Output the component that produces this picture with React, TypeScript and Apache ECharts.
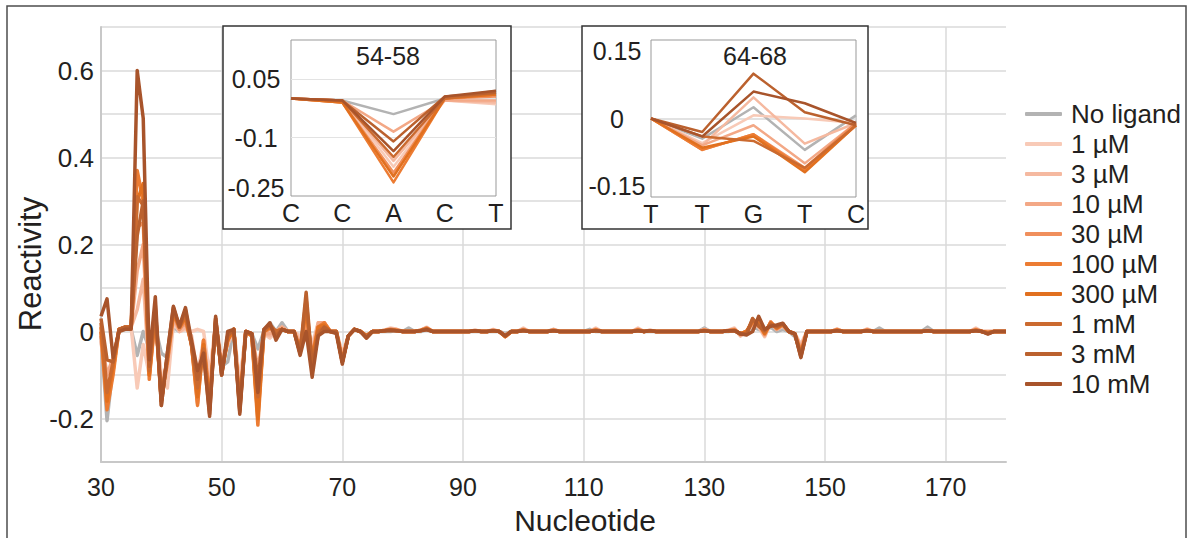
import React, { useEffect, useRef } from 'react';
import * as echarts from 'echarts';

const FONT = '"Liberation Sans", Arial, Helvetica, sans-serif';
const TEXT = '#231f20';

const seriesNames = ['No ligand', '1 µM', '3 µM', '10 µM', '30 µM', '100 µM', '300 µM', '1 mM', '3 mM', '10 mM'];
const seriesColors = ['#b3b3b3', '#f8cab7', '#f5b9a0', '#f3a886', '#f08f5c', '#ec7c33', '#e1701f', '#cb6a2f', '#bb612e', '#a8542b'];

const firstNucleotide = 30;
const xTickLabels = [30, 50, 70, 90, 110, 130, 150, 170];
const yTickLabels = [-0.2, 0, 0.2, 0.4, 0.6];

// Reactivity per nucleotide, 30..180
const noLigand = [
  -0.01, -0.205, -0.08, 0.005, 0.01, 0.005, -0.055, 0.0, -0.04, 0.01,
  -0.05, -0.06, 0.01, 0.0, 0.02, -0.02, -0.12, -0.03, -0.12, 0.01,
  -0.08, -0.07, 0.005, -0.13, 0.0, -0.005, -0.04, 0.0, 0.02, 0.0,
  0.02, 0.0, 0.0, -0.02, -0.01, -0.04, 0.0, 0.005, 0.0, 0.0,
  -0.06, -0.01, 0.005, 0.0, -0.01, 0.0,
  0, 0, 0, 0.003, 0, 0.008, 0, 0, 0.005, 0,
  0, 0, 0, 0, 0, 0, 0, 0, 0, 0,
  0, -0.005, 0, 0, 0.003, 0, 0, 0, 0, 0.005,
  0, 0, 0, 0, 0, 0.005, 0, 0, 0, 0,
  0, 0, 0, 0.003, 0, 0, 0, 0, 0, 0,
  0, 0, 0, 0, 0.008, 0, 0, 0, 0, 0.003,
  -0.005, 0, 0.01, 0.005, 0, 0.01, 0, 0.005, 0, -0.012,
  -0.04, 0, 0, 0, 0, 0, 0.003, 0, 0, 0,
  0, 0.003, 0, 0.008, 0, 0, 0, 0, 0, 0,
  0, 0.01, 0, 0, 0, 0, 0, 0, 0, 0.003,
  0, -0.003, 0, 0, 0,
];
const uM1 = [
  -0.02, -0.12, -0.09, 0.005, 0.01, 0.01, -0.13, -0.03, -0.1, 0.02,
  -0.1, -0.13, 0.02, 0.0, 0.005, 0.0, 0.005, 0.0, -0.1, 0.02,
  -0.06, -0.03, 0.005, -0.12, 0.0, -0.005, -0.175, -0.005, -0.015, 0.0,
  0.01, 0.0, 0.0, -0.01, -0.02, -0.03, 0.02, 0.02, 0.0, 0.0,
  -0.05, -0.01, 0.005, 0.0, -0.01, 0.0,
  0, 0.003, 0.008, 0.005, 0, 0, 0, 0.003, 0.01, 0,
  0, 0, 0, 0, 0, 0, 0.003, 0, 0, 0.005,
  0, -0.008, 0, 0, 0.008, 0, 0, 0, 0, 0.005,
  0, 0, 0, 0, 0, 0, 0.008, 0, 0, 0,
  0, 0, 0, 0.008, 0, 0.003, 0, 0, 0, 0,
  0, 0, 0, 0, 0.005, 0, 0, 0, 0.003, 0.008,
  -0.01, 0, 0.015, 0.01, -0.012, 0.02, 0.005, 0.012, 0, -0.005,
  -0.03, 0, 0, 0, 0, 0, 0.006, 0, 0, 0,
  0, 0.006, 0, 0, 0, 0, 0, 0, 0, 0,
  0, 0.003, 0, 0, 0, 0, 0, 0, 0, 0.008,
  0, 0, 0, 0, 0,
];
const uM3 = [
  -0.02, -0.15, -0.07, 0.005, 0.01, 0.01, 0.05, 0.12, -0.1, 0.03,
  -0.12, -0.08, 0.03, 0.0, 0.01, -0.01, -0.1, -0.02, -0.14, 0.02,
  -0.07, -0.03, 0.005, -0.15, 0.0, -0.005, -0.16, -0.005, -0.01, 0.0,
  0.01, 0.0, 0.0, -0.02, 0.01, -0.04, 0.015, 0.02, 0.0, 0.0,
  -0.055, -0.01, 0.005, 0.0, -0.01, 0.0,
  0, 0.003, 0.006, 0.005, 0, 0, 0, 0.003, 0.008, 0,
  0, 0, 0, 0, 0, 0, 0.003, 0, 0, 0.003,
  0, -0.01, 0, 0, 0.006, 0, 0, 0, 0, 0.004,
  0, 0, 0, 0, 0, 0, 0.006, 0, 0, 0,
  0, 0, 0, 0.006, 0, 0.003, 0, 0, 0, 0,
  0, 0, 0, 0, 0.004, 0, 0, 0, 0.003, 0.006,
  -0.01, 0, 0.018, 0.012, -0.01, 0.02, 0.005, 0.015, 0, -0.005,
  -0.035, 0, 0, 0, 0, 0, 0.005, 0, 0, 0,
  0, 0.005, 0, 0, 0, 0, 0, 0, 0, 0,
  0, 0.003, 0, 0, 0, 0, 0, 0, 0, 0.006,
  0, 0, 0, 0, 0,
];
const uM10 = [
  -0.01, -0.1, -0.06, 0.005, 0.01, 0.01, 0.14, 0.2, -0.09, 0.03,
  -0.13, -0.07, 0.03, 0.005, 0.02, -0.02, -0.12, -0.03, -0.15, 0.02,
  -0.08, -0.02, 0.005, -0.16, 0.0, -0.005, -0.085, -0.005, -0.005, 0.0,
  0.01, 0.0, 0.0, -0.03, 0.02, -0.05, 0.02, 0.02, 0.0, 0.0,
  -0.06, -0.01, 0.005, 0.0, -0.01, 0.0,
  0, 0.003, 0.005, 0.004, 0, 0, 0, 0.003, 0.008, 0,
  0, 0, 0, 0, 0, 0, 0.002, 0, 0, 0.003,
  0, -0.01, 0, 0, 0.005, 0, 0, 0, 0, 0.004,
  0, 0, 0, 0, 0, 0, 0.005, 0, 0, 0,
  0, 0, 0, 0.005, 0, 0.002, 0, 0, 0, 0,
  0, 0, 0, 0, 0.004, 0, 0, 0, 0.002, 0.005,
  -0.008, 0, 0.02, 0.015, -0.008, 0.022, 0.005, 0.015, 0, -0.005,
  -0.04, 0, 0, 0, 0, 0, 0.005, 0, 0, 0,
  0, 0.004, 0, 0, 0, 0, 0, 0, 0, 0,
  0, 0.002, 0, 0, 0, 0, 0, 0, 0, 0.005,
  0, 0, 0, 0, 0,
];
const uM30 = [
  0.0, -0.17, -0.09, 0.005, 0.01, 0.01, 0.24, 0.25, -0.1, 0.04,
  -0.15, -0.06, 0.04, 0.005, 0.025, -0.03, -0.165, -0.02, -0.16, 0.02,
  -0.09, -0.02, 0.005, -0.17, 0.0, -0.01, -0.19, 0.0, 0.005, 0.0,
  0.005, 0.0, 0.0, -0.04, 0.03, -0.06, 0.01, 0.02, 0.0, 0.0,
  -0.065, -0.01, 0.005, 0.0, -0.01, 0.0,
  0, 0.002, 0.005, 0.003, 0, 0, 0, 0.003, 0.008, 0,
  0, 0, 0, 0, 0, 0, 0.002, 0, 0, 0.003,
  0, -0.012, 0, 0, 0.004, 0, 0, 0, 0, 0.003,
  0, 0, 0, 0, 0, 0, 0.004, 0, 0, 0,
  0, 0, 0, 0.004, 0, 0.002, 0, 0, 0, 0,
  0, 0, 0, 0, 0.003, 0, 0, 0, 0.002, 0.004,
  -0.006, 0, 0.02, 0.018, -0.006, 0.022, 0.006, 0.015, 0, -0.005,
  -0.045, 0, 0, 0, 0, 0, 0.004, 0, 0, 0,
  0, 0.003, 0, 0, 0, 0, 0, 0, 0, 0,
  0, 0.002, 0, 0, 0, 0, 0, 0, 0, 0.004,
  0, -0.002, 0, 0, 0,
];
const uM100 = [
  0.0, -0.18, -0.1, 0.005, 0.01, 0.01, 0.37, 0.3, -0.11, 0.04,
  -0.16, -0.07, 0.04, 0.01, 0.03, -0.03, -0.17, -0.02, -0.17, 0.02,
  -0.09, -0.02, 0.005, -0.17, 0.0, -0.01, -0.215, 0.0, 0.01, 0.0,
  0.005, 0.0, 0.0, -0.04, 0.05, -0.06, 0.01, 0.02, 0.0, 0.0,
  -0.07, -0.01, 0.005, 0.0, -0.01, 0.0,
  0, 0.002, 0.004, 0.003, 0, 0, 0, 0.002, 0.007, 0,
  0, 0, 0, 0, 0, 0, 0.002, 0, 0, 0.002,
  0, -0.012, 0, 0, 0.003, 0, 0, 0, 0, 0.003,
  0, 0, 0, 0, 0, 0, 0.003, 0, 0, 0,
  0, 0, 0, 0.003, 0, 0.002, 0, 0, 0, 0,
  0, 0, 0, 0, 0.003, 0, 0, 0, 0.002, 0.003,
  -0.005, 0, 0.022, 0.02, -0.005, 0.02, 0.008, 0.016, 0, -0.005,
  -0.05, 0, 0, 0, 0, 0, 0.003, 0, 0, 0,
  0, 0.003, 0, 0, 0, 0, 0, 0, 0, 0,
  0, 0.002, 0, 0, 0, 0, 0, 0, 0, 0.003,
  0, -0.003, 0, 0, 0,
];
const uM300 = [
  0.01, -0.16, -0.08, 0.005, 0.01, 0.01, 0.3, 0.34, -0.1, 0.05,
  -0.16, -0.06, 0.045, 0.01, 0.035, -0.03, -0.15, -0.03, -0.17, 0.025,
  -0.095, -0.02, 0.005, -0.175, 0.0, -0.01, -0.2, 0.0, 0.01, 0.0,
  0.005, 0.0, 0.0, -0.045, 0.06, -0.07, 0.01, 0.015, 0.0, 0.0,
  -0.07, -0.01, 0.005, 0.0, -0.01, 0.0,
  0, 0.002, 0.004, 0.002, 0, 0, 0, 0.002, 0.006, 0,
  0, 0, 0, 0, 0, 0, 0.002, 0, 0, 0.002,
  0, -0.012, 0, 0, 0.003, 0, 0, 0, 0, 0.002,
  0, 0, 0, 0, 0, 0, 0.003, 0, 0, 0,
  0, 0, 0, 0.003, 0, 0.002, 0, 0, 0, 0,
  0, 0, 0, 0, 0.002, 0, 0, 0, 0.002, 0.003,
  -0.005, 0, 0.025, 0.018, -0.004, 0.02, 0.008, 0.017, 0, -0.006,
  -0.052, 0, 0, 0, 0, 0, 0.003, 0, 0, 0,
  0, 0.002, 0, 0, 0, 0, 0, 0, 0, 0,
  0, 0.002, 0, 0, 0, 0, 0, 0, 0, 0.003,
  0, -0.003, 0, 0, 0,
];
const mM1 = [
  0.02, -0.14, -0.07, 0.005, 0.01, 0.01, 0.31, 0.29, -0.09, 0.05,
  -0.16, -0.06, 0.05, 0.01, 0.04, -0.03, -0.13, -0.04, -0.18, 0.03,
  -0.1, -0.01, 0.005, -0.18, 0.0, -0.005, -0.15, 0.0, 0.015, 0.0,
  0.005, 0.0, 0.0, -0.05, 0.075, -0.08, 0.0, 0.01, 0.0, 0.0,
  -0.07, -0.01, 0.005, 0.0, -0.01, 0.0,
  0, 0.002, 0.003, 0.002, 0, 0, 0, 0.002, 0.006, 0,
  0, 0, 0, 0, 0, 0, 0.002, 0, 0, 0.002,
  0, -0.01, 0, 0, 0.003, 0, 0, 0, 0, 0.002,
  0, 0, 0, 0, 0, 0, 0.002, 0, 0, 0,
  0, 0, 0, 0.002, 0, 0.002, 0, 0, 0, 0,
  0, 0, 0, 0, 0.002, 0, 0, 0, 0.002, 0.002,
  -0.006, -0.005, 0.028, 0.015, 0.0, 0.018, 0.01, 0.018, 0, -0.006,
  -0.055, 0, 0, 0, 0, 0, 0.002, 0, 0, 0,
  0, 0.002, 0, 0, 0, 0, 0, 0, 0, 0,
  0, 0.002, 0, 0, 0, 0, 0, 0, 0, 0.002,
  0, -0.004, 0, 0, 0,
];
const mM3 = [
  0.03, -0.065, -0.07, 0.005, 0.01, 0.01, 0.22, 0.3, -0.08, 0.06,
  -0.17, -0.05, 0.055, 0.01, 0.05, -0.03, -0.11, -0.05, -0.19, 0.03,
  -0.1, -0.01, 0.005, -0.185, 0.0, -0.005, -0.11, 0.005, 0.015, -0.01,
  0.005, 0.0, 0.0, -0.05, 0.09, -0.08, -0.01, 0.01, 0.0, 0.0,
  -0.07, -0.01, 0.005, 0.0, -0.015, 0.0,
  0, 0.002, 0.003, 0.002, 0, 0, 0, 0.002, 0.005, 0,
  0, 0, 0, 0, 0, 0, 0.002, 0, 0, 0.002,
  0, -0.01, 0, 0, 0.002, 0, 0, 0, 0, 0.002,
  0, 0, 0, 0, 0, 0, 0.002, 0, 0, 0,
  0, 0, 0, 0.002, 0, 0.002, 0, 0, 0, 0,
  0, 0, 0, 0, 0.002, 0, 0, 0, 0.002, 0.002,
  -0.006, -0.006, 0.03, 0.012, 0.003, 0.015, 0.012, 0.018, 0, -0.006,
  -0.058, 0, 0, 0, 0, 0, 0.002, 0, 0, 0,
  0, 0.002, 0, 0, 0, 0, 0, 0, 0, 0,
  0, 0.002, 0, 0, 0, 0, 0, 0, 0, 0.002,
  0, -0.005, 0, 0, 0,
];
const mM10 = [
  0.035, 0.075, -0.06, 0.0, 0.005, 0.005, 0.6, 0.49, -0.065, 0.08,
  -0.17, -0.05, 0.058, 0.012, 0.055, -0.02, -0.09, -0.05, -0.195, 0.035,
  -0.1, 0.0, 0.005, -0.19, 0.0, -0.005, -0.14, 0.005, 0.02, -0.02,
  0.005, 0.0, 0.0, -0.055, 0.0, -0.105, -0.01, 0.0, 0.0, -0.005,
  -0.075, -0.01, 0.005, 0.0, -0.015, 0.0,
  0, 0.002, 0.003, 0.002, 0, 0, 0, 0.002, 0.004, 0,
  0, 0, 0, 0, 0, 0, 0.002, 0, 0, 0.002,
  0, -0.01, 0, 0, 0.002, 0, 0, 0, 0, 0.002,
  0, 0, 0, 0, 0, 0, 0.002, 0, 0, 0,
  0, 0, 0, 0.002, 0, 0.002, 0, 0, 0, 0,
  0, 0, 0, 0, 0.002, 0, 0, 0, 0.002, 0.002,
  -0.005, -0.008, 0.0, 0.035, 0.005, 0.012, 0.015, 0.019, 0.0, -0.005,
  -0.06, 0, 0, 0, 0, 0, 0.002, 0, 0, 0,
  0, 0.002, 0, 0, 0, 0, 0, 0, 0, 0,
  0, 0.002, 0, 0, 0, 0, 0, 0, 0, 0.002,
  0, -0.006, 0, 0, 0,
];
const mainValues = [noLigand, uM1, uM3, uM10, uM30, uM100, uM300, mM1, mM3, mM10];

// Inset "54-58"
const inset1Title = '54-58';
const inset1Labels = ['C', 'C', 'A', 'C', 'T'];
const inset1Ticks = [-0.25, -0.1, 0.05];
const inset1Values = [
  [0.0, -0.005, -0.04, 0.0, 0.02],
  [0.0, -0.005, -0.175, -0.005, -0.015],
  [0.0, -0.005, -0.16, -0.005, -0.01],
  [0.0, -0.005, -0.085, -0.005, -0.005],
  [0.0, -0.01, -0.19, 0.0, 0.005],
  [0.0, -0.01, -0.215, 0.0, 0.01],
  [0.0, -0.01, -0.2, 0.0, 0.01],
  [0.0, -0.005, -0.15, 0.0, 0.015],
  [0.0, -0.005, -0.11, 0.005, 0.015],
  [0.0, -0.005, -0.135, 0.005, 0.02],
];

// Inset "64-68"
const inset2Title = '64-68';
const inset2Labels = ['T', 'T', 'G', 'T', 'C'];
const inset2Ticks = [-0.15, 0, 0.15];
const inset2Values = [
  [0.0, -0.045, 0.025, -0.07, 0.007],
  [0.0, -0.055, 0.007, 0.0, -0.01],
  [0.0, -0.06, 0.047, -0.056, -0.01],
  [0.0, -0.06, -0.015, -0.1, -0.01],
  [0.0, -0.07, -0.035, -0.11, -0.01],
  [0.0, -0.07, -0.035, -0.115, -0.015],
  [0.0, -0.065, -0.04, -0.12, -0.015],
  [0.0, -0.04, -0.05, -0.11, -0.015],
  [0.0, -0.03, 0.1, 0.014, -0.015],
  [0.0, -0.04, 0.06, 0.034, -0.01],
];

const near = (a: number, b: number) => Math.abs(a - b) < 1e-6;

export default function App() {
  const ref = useRef<HTMLDivElement>(null);
  useEffect(() => {
    if (!ref.current) return;
    const chart = echarts.init(ref.current, undefined, { renderer: 'svg' });

    const mainSeries = seriesNames.map((name, i) => ({
      name,
      type: 'line',
      xAxisIndex: 0,
      yAxisIndex: 0,
      data: mainValues[i].map((v, k) => [firstNucleotide + k, v]),
      symbol: 'none',
      color: seriesColors[i],
      lineStyle: { width: 3.5, color: seriesColors[i], join: 'round' },
      z: 2,
    }));
    const zeroLine = {
      silent: true,
      symbol: 'none',
      label: { show: false },
      lineStyle: { color: '#d9d9d9', width: 1.5, type: 'solid' },
      data: [{ yAxis: 0 }],
    };
    const insetSeries = (values: number[][], axis: number) =>
      seriesNames.map((name, i) => ({
        name,
        type: 'line',
        xAxisIndex: axis,
        yAxisIndex: axis,
        data: values[i],
        symbol: 'none',
        color: seriesColors[i],
        lineStyle: { width: 2.5, color: seriesColors[i], join: 'round' },
        z: 6,
        ...(i === 0 ? { markLine: zeroLine } : {}),
      }));

    const insetXAxis = (grid: number, labels: string[]) => ({
      type: 'category',
      gridIndex: grid,
      data: labels,
      boundaryGap: false,
      axisLine: { show: false, onZero: false },
      axisTick: { show: false },
      axisLabel: { fontSize: 25, color: TEXT, margin: 4, fontFamily: FONT },
      splitLine: { show: false },
      z: 5,
    });

    const option = {
      animation: false,
      backgroundColor: '#ffffff',
      textStyle: { fontFamily: FONT },
      grid: [
        { left: 101, top: 27, width: 905, height: 435, containLabel: false },
        { left: 291, top: 40, width: 205, height: 156, show: true, backgroundColor: '#ffffff', borderColor: '#999999', borderWidth: 1, z: 4, containLabel: false },
        { left: 651, top: 40, width: 205, height: 157, show: true, backgroundColor: '#ffffff', borderColor: '#999999', borderWidth: 1, z: 4, containLabel: false },
      ],
      legend: {
        orient: 'vertical',
        left: 1025,
        top: 99,
        padding: 0,
        itemWidth: 37,
        itemHeight: 4,
        itemGap: 0,
        icon: 'roundRect',
        data: seriesNames,
        textStyle: { fontSize: 26, color: TEXT, fontFamily: FONT, lineHeight: 30, padding: [0, 0, 0, 4] },
      },
      xAxis: [
        {
          type: 'value',
          gridIndex: 0,
          min: 30,
          max: 180,
          interval: 20,
          axisLine: { show: true, onZero: false, lineStyle: { color: '#c8c8c8', width: 2 } },
          axisTick: { show: false },
          axisLabel: {
            fontSize: 25,
            color: TEXT,
            margin: 12,
            fontFamily: FONT,
            formatter: (v: number) => (xTickLabels.some((t) => near(t, v)) ? String(v) : ''),
          },
          splitLine: { show: true, showMaxLine: false, lineStyle: { color: '#dadada', width: 1.5 } },
        },
        insetXAxis(1, inset1Labels),
        insetXAxis(2, inset2Labels),
      ],
      yAxis: [
        {
          type: 'value',
          gridIndex: 0,
          min: -0.3,
          max: 0.7,
          interval: 0.1,
          axisLine: { show: true, onZero: false, lineStyle: { color: '#c8c8c8', width: 2 } },
          axisTick: { show: false },
          axisLabel: {
            fontSize: 26,
            color: TEXT,
            margin: 7,
            fontFamily: FONT,
            formatter: (v: number) => {
              const t = yTickLabels.find((y) => near(y, v));
              return t === undefined ? '' : String(t);
            },
          },
          splitLine: { show: true, lineStyle: { color: '#dadada', width: 1.5 } },
        },
        {
          type: 'value',
          gridIndex: 1,
          min: -0.25,
          max: 0.15,
          interval: 0.15,
          axisLine: { show: false, onZero: false },
          axisTick: { show: false },
          axisLabel: {
            fontSize: 25,
            color: TEXT,
            margin: 35,
            align: 'center',
            fontFamily: FONT,
            formatter: (v: number) => {
              const t = inset1Ticks.find((y) => near(y, v));
              if (t === undefined) return '';
              return near(t, inset1Ticks[0]) ? `{low|${t}}` : String(t);
            },
            rich: { low: { fontSize: 25, color: TEXT, fontFamily: FONT, padding: [0, 0, 16, 0] } },
          },
          splitLine: { show: true, showMinLine: false, showMaxLine: false, lineStyle: { color: '#e3e3e3', width: 1 } },
          z: 5,
        },
        {
          type: 'value',
          gridIndex: 2,
          min: -0.175,
          max: 0.175,
          interval: 0.025,
          axisLine: { show: false, onZero: false },
          axisTick: { show: false },
          axisLabel: {
            fontSize: 25,
            color: TEXT,
            margin: 34,
            align: 'center',
            fontFamily: FONT,
            formatter: (v: number) => {
              const t = inset2Ticks.find((y) => near(y, v));
              return t === undefined ? '' : String(t);
            },
          },
          splitLine: { show: false },
          z: 5,
        },
      ],
      graphic: [
        {
          type: 'rect',
          silent: true,
          z: 1,
          shape: { x: 7, y: 6, width: 1179, height: 570 },
          style: { fill: 'none', stroke: '#4d4d4d', lineWidth: 1.5 },
        },
        {
          type: 'rect',
          silent: true,
          z: 3,
          shape: { x: 223, y: 26, width: 288, height: 203 },
          style: { fill: '#ffffff', stroke: '#333333', lineWidth: 1.5 },
        },
        {
          type: 'rect',
          silent: true,
          z: 3,
          shape: { x: 582, y: 26, width: 286, height: 203 },
          style: { fill: '#ffffff', stroke: '#333333', lineWidth: 1.5 },
        },
        {
          type: 'text',
          z: 7,
          x: 388,
          y: 56,
          style: { text: inset1Title, fill: TEXT, font: `25px ${FONT}`, textAlign: 'center', textVerticalAlign: 'middle' },
        },
        {
          type: 'text',
          z: 7,
          x: 755,
          y: 56,
          style: { text: inset2Title, fill: TEXT, font: `25px ${FONT}`, textAlign: 'center', textVerticalAlign: 'middle' },
        },
        {
          type: 'text',
          z: 7,
          x: 30,
          y: 264,
          rotation: Math.PI / 2,
          style: { text: 'Reactivity', fill: TEXT, font: `31px ${FONT}`, textAlign: 'center', textVerticalAlign: 'middle' },
        },
        {
          type: 'text',
          z: 7,
          x: 585,
          y: 520,
          style: { text: 'Nucleotide', fill: TEXT, font: `30px ${FONT}`, textAlign: 'center', textVerticalAlign: 'middle' },
        },
      ],
      series: [...mainSeries, ...insetSeries(inset1Values, 1), ...insetSeries(inset2Values, 2)],
    };

    chart.setOption(option as any);
    return () => chart.dispose();
  }, []);

  return <div ref={ref} style={{ width: 1193, height: 538, position: 'absolute', left: 0, top: 0 }} />;
}
